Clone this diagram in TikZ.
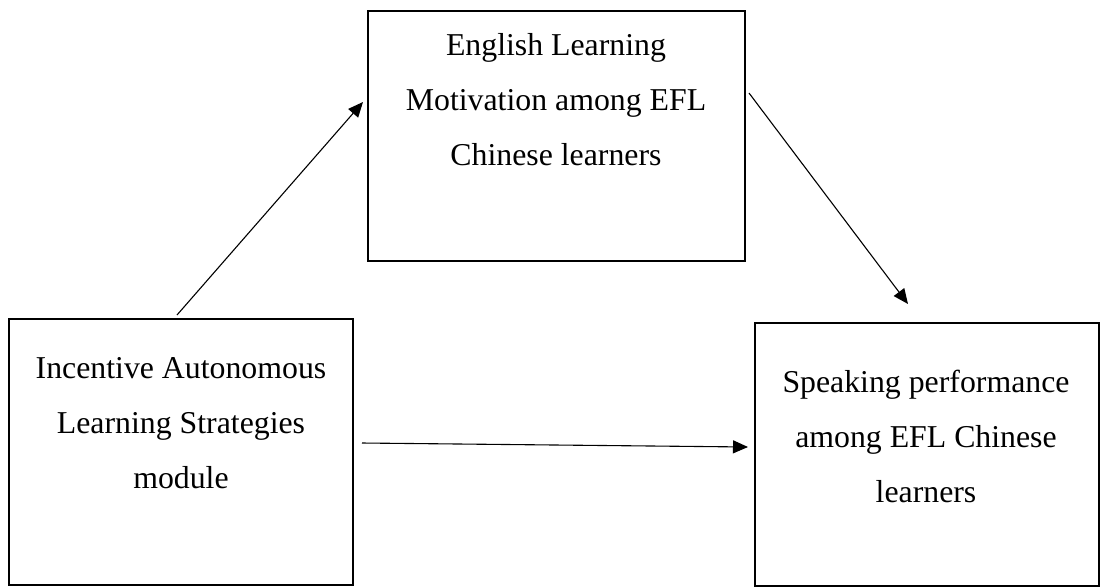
\documentclass[tikz,border=0pt]{standalone}
\usepackage{fontspec}
\setmainfont{Liberation Serif}
\usetikzlibrary{arrows.meta}
\begin{document}
\begin{tikzpicture}[x=0.5pt,y=-0.5pt,
    box/.style={draw,line width=0.9pt},
    lbl/.style={align=center,font=\fontsize{15.9}{27.5}\selectfont},
    arr/.style={line width=0.55pt,-{Triangle[length=7.5pt,width=6.5pt]}}]
    \useasboundingbox (0,0) rectangle (1100,586);

    \draw[box] (368,11) rectangle (745,261);
    \draw[box] (9,319) rectangle (353,585);
    \draw[box] (755,323) rectangle (1099,586);

    \node[lbl] (motiv) at (556,100) {English Learning\\Motivation among EFL\\Chinese learners};
    \node[lbl] (ials) at (181,423) {Incentive Autonomous\\Learning Strategies\\module};
    \node[lbl] (speak) at (926,436) {Speaking performance\\among EFL Chinese\\learners};

    \coordinate (a1) at (177,315);
    \coordinate (a2) at (363,102);
    \coordinate (b1) at (749,93);
    \coordinate (b2) at (908,304);
    \coordinate (c1) at (362,443);
    \coordinate (c2) at (748,447);

    \draw[arr] (a1) -- (a2);
    \draw[arr] (b1) -- (b2);
    \draw[arr] (c1) -- (c2);
\end{tikzpicture}
\end{document}
